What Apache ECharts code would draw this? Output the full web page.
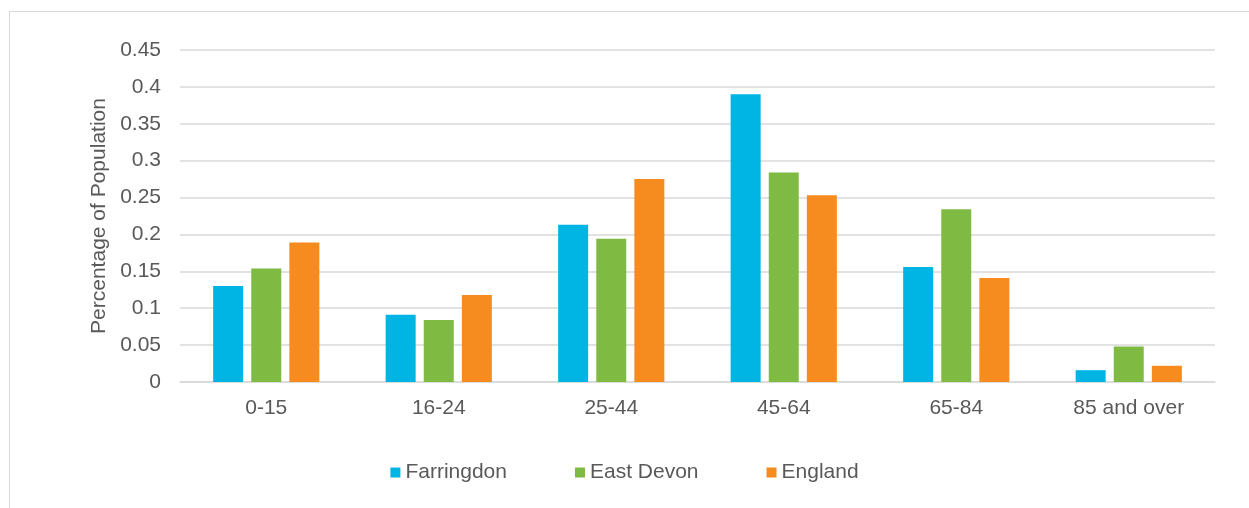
<!DOCTYPE html>
<html>
<head>
<meta charset="utf-8">
<script src="https://cdn.jsdelivr.net/npm/echarts@6/dist/echarts.min.js"></script>
<style>
  html, body { margin: 0; padding: 0; background: #fff; }
  #frame {
    position: absolute; left: 9px; top: 11px; width: 1260px; height: 520px;
    border: 1px solid #d9d9d9; box-sizing: border-box;
  }
  #chart { position: absolute; left: 0; top: 0; width: 1249px; height: 508px; }
</style>
</head>
<body>
<div id="frame"></div>
<div id="chart"></div>
<script>
const ageBands = ['0-15', '16-24', '25-44', '45-64', '65-84', '85 and over']
const farringdon = [0.130, 0.091, 0.213, 0.390, 0.156, 0.016]
const eastDevon = [0.154, 0.084, 0.194, 0.284, 0.234, 0.048]
const england = [0.189, 0.118, 0.275, 0.253, 0.141, 0.022]
const yTicks = [0, 0.05, 0.1, 0.15, 0.2, 0.25, 0.3, 0.35, 0.4, 0.45]

const TEXT_COLOR = '#595959'
const GRID_COLOR = '#d9d9d9'
const FONT = '"Liberation Sans", Arial, sans-serif'
const FONT_SIZE = 21

function barSeries(name, data, color) {
  return {
    name,
    type: 'bar',
    data,
    barWidth: 30,
    barGap: '27%',
    itemStyle: { color },
    animation: false
  }
}

const chart = echarts.init(document.getElementById('chart'), undefined, { renderer: 'canvas' })
chart.setOption({
  backgroundColor: 'transparent',
  animation: false,
  textStyle: { fontFamily: FONT, color: TEXT_COLOR },
  grid: { left: 180, right: 34, top: 50, bottom: 126, containLabel: false },
  legend: {
    bottom: 20,
    left: 'center',
    itemWidth: 10,
    itemHeight: 10,
    itemGap: 68,
    icon: 'rect',
    textStyle: { fontSize: FONT_SIZE, color: TEXT_COLOR, fontFamily: FONT },
    data: ['Farringdon', 'East Devon', 'England']
  },
  xAxis: {
    type: 'category',
    data: ageBands,
    axisLine: { lineStyle: { color: GRID_COLOR, width: 1.5 } },
    axisTick: { show: false },
    axisLabel: { fontSize: FONT_SIZE, color: TEXT_COLOR, fontFamily: FONT, margin: 16 }
  },
  yAxis: {
    type: 'value',
    min: 0,
    max: 0.45,
    interval: 0.05,
    name: 'Percentage of Population',
    nameLocation: 'middle',
    nameGap: 70,
    nameTextStyle: { fontSize: FONT_SIZE, color: TEXT_COLOR, fontFamily: FONT },
    axisLine: { show: false },
    axisTick: { show: false },
    axisLabel: {
      fontSize: FONT_SIZE,
      color: TEXT_COLOR,
      fontFamily: FONT,
      margin: 19,
      formatter: (v) => {
        const t = yTicks.find((x) => Math.abs(x - v) < 1e-9)
        return t === undefined ? '' : String(t)
      }
    },
    splitLine: { lineStyle: { color: GRID_COLOR, width: 1.5 } }
  },
  series: [
    barSeries('Farringdon', farringdon, '#00b4e4'),
    barSeries('East Devon', eastDevon, '#7fba42'),
    barSeries('England', england, '#f68b1f')
  ]
})
</script>
</body>
</html>
